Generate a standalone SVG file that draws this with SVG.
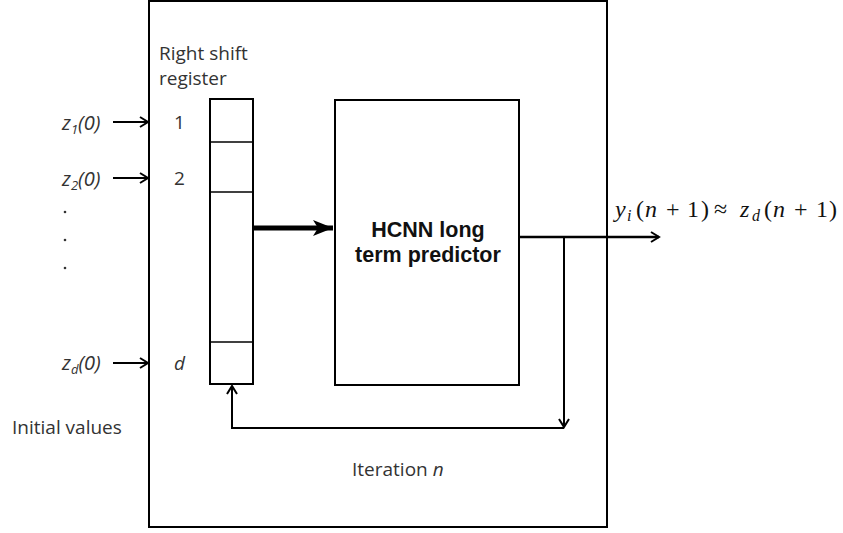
<svg xmlns="http://www.w3.org/2000/svg" width="843" height="533" viewBox="0 0 843 533">
  <defs>
    <marker id="arr" markerWidth="12" markerHeight="12" refX="10" refY="6" orient="auto" markerUnits="userSpaceOnUse">
      <path d="M2,1 L10,6 L2,11" fill="none" stroke="#000" stroke-width="2"/>
    </marker>
    <marker id="arrBig" markerWidth="22" markerHeight="18" refX="20" refY="9" orient="auto" markerUnits="userSpaceOnUse">
      <path d="M0,1 L20,9 L0,17 L5,9 Z" fill="#000"/>
    </marker>
    <style>
      .box { fill: #fff; stroke: #000; stroke-width: 2; }
      .line { fill: none; stroke: #000; stroke-width: 2; }
      .thin { stroke-width: 1.5; }
      .thick { stroke-width: 5; }
      .out { stroke-width: 2.5; }
      .lbl { font-family: "Open Sans", "Liberation Sans", sans-serif; font-size: 19px; fill: #333; }
      .zl { font-family: "Open Sans", "Liberation Sans", sans-serif; font-size: 20px; font-style: italic; fill: #333; }
      .it { font-style: italic; }
      .bold { font-family: "Liberation Sans", Arial, sans-serif; font-weight: bold; font-size: 21.5px; fill: #111; }
      .math { font-family: "Liberation Serif", "DejaVu Serif", serif; font-size: 24px; fill: #111; }
    </style>
  </defs>

  <rect width="843" height="533" fill="#fff"/>

  <!-- outer frame: one iteration -->
  <g id="iteration">
    <rect class="box" x="149" y="1" width="458" height="526"/>
    <text class="lbl" x="352" y="476">Iteration <tspan class="it">n</tspan></text>
  </g>

  <!-- right shift register -->
  <g id="register">
    <text class="lbl" x="159" y="60">Right shift</text>
    <text class="lbl" x="159" y="85">register</text>
    <rect class="box" x="210" y="99" width="43" height="285"/>
    <line class="line thin" x1="210" y1="142" x2="253" y2="142"/>
    <line class="line thin" x1="210" y1="192" x2="253" y2="192"/>
    <line class="line thin" x1="210" y1="342" x2="253" y2="342"/>
    <text class="lbl" x="174" y="129">1</text>
    <text class="lbl" x="174" y="185">2</text>
    <text class="lbl it" x="174" y="370">d</text>
  </g>

  <!-- predictor -->
  <g id="predictor">
    <rect class="box" x="335" y="100" width="184" height="285"/>
    <text class="bold" x="428" y="237" text-anchor="middle">HCNN long</text>
    <text class="bold" x="428" y="262" text-anchor="middle">term predictor</text>
  </g>

  <!-- initial values -->
  <g id="inputs">
    <text class="zl" x="62" y="130">z<tspan font-size="13" dy="4">1</tspan><tspan dy="-4">(0)</tspan></text>
    <text class="zl" x="62" y="186">z<tspan font-size="13" dy="4">2</tspan><tspan dy="-4">(0)</tspan></text>
    <circle cx="65" cy="212" r="1.3" fill="#333"/>
    <circle cx="65" cy="240" r="1.3" fill="#333"/>
    <circle cx="65" cy="268" r="1.3" fill="#333"/>
    <text class="zl" x="62" y="370">z<tspan font-size="13" dy="4">d</tspan><tspan dy="-4">(0)</tspan></text>
    <text class="lbl" x="12" y="434">Initial values</text>
  </g>

  <!-- output relation -->
  <g id="output" class="math">
    <text x="615" y="217" font-style="italic">y</text>
    <text x="627" y="221" font-style="italic" font-size="16">i</text>
    <text x="636" y="217">(</text>
    <text x="645" y="217" font-style="italic">n</text>
    <text x="666" y="217">+</text>
    <text x="687" y="217">1</text>
    <text x="701" y="217">)</text>
    <text x="714" y="217">≈</text>
    <text x="740" y="217" font-style="italic">z</text>
    <text x="752" y="221" font-style="italic" font-size="16">d</text>
    <text x="764" y="217">(</text>
    <text x="773" y="217" font-style="italic">n</text>
    <text x="794" y="217">+</text>
    <text x="816" y="217">1</text>
    <text x="829" y="217">)</text>
  </g>

  <!-- connectors -->
  <g id="connectors">
    <line class="line" x1="113" y1="122" x2="148" y2="122" marker-end="url(#arr)"/>
    <line class="line" x1="113" y1="178" x2="148" y2="178" marker-end="url(#arr)"/>
    <line class="line" x1="113" y1="363" x2="148" y2="363" marker-end="url(#arr)"/>
    <line class="line thick" x1="254" y1="228" x2="333" y2="228" marker-end="url(#arrBig)"/>
    <line class="line out" x1="519" y1="237" x2="659" y2="237" marker-end="url(#arr)"/>
    <line class="line" x1="564" y1="237" x2="564" y2="427" marker-end="url(#arr)"/>
    <polyline class="line" points="564,428 232,428 232,386" marker-end="url(#arr)"/>
  </g>
</svg>
